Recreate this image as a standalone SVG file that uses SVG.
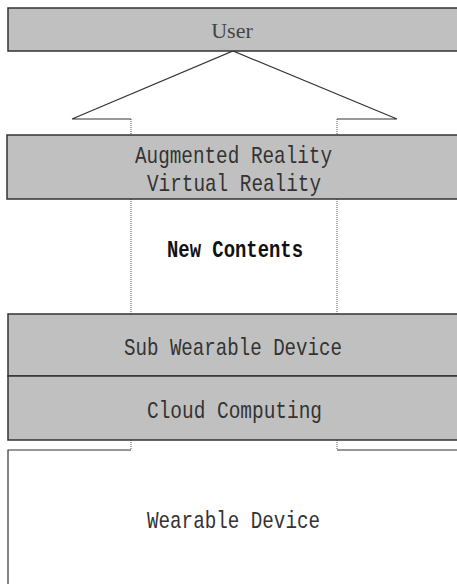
<svg xmlns="http://www.w3.org/2000/svg" width="457" height="584" viewBox="0 0 457 584">
<style>
.box{fill:#c0c0c0;stroke:#333;stroke-width:1.5}
.t{font-family:"Liberation Mono",monospace;font-size:24px;fill:#333}
.s{font-family:"Liberation Serif",serif;font-size:22px;fill:#444;text-anchor:middle}
.b{font-family:"Liberation Mono",monospace;font-size:23px;font-weight:bold;fill:#111}
.dot{fill:none;stroke:#555;stroke-width:1;stroke-dasharray:1,1}
.ln{fill:none;stroke:#333;stroke-width:1.2}
</style>
<rect width="457" height="584" fill="#fff"/>
<g id="connectors">
<path class="ln" d="M72,119 L233,51 L397,119 L337,119 M72,119 L131,119"/>
<path class="dot" d="M131,119 V135 M337,119 V135 M131,199 V314 M337,199 V314 M131,440 V450 M337,440 V450"/>
</g>
<g id="user">
<rect class="box" x="8" y="8" width="460" height="43"/>
<text class="s" x="232" y="38">User</text>
</g>
<g id="arvr">
<rect class="box" x="7" y="135" width="460" height="64"/>
<text class="t" x="135" y="163" textLength="197" lengthAdjust="spacingAndGlyphs">Augmented Reality</text>
<text class="t" x="147" y="191" textLength="174" lengthAdjust="spacingAndGlyphs">Virtual Reality</text>
</g>
<g id="newcontents">
<text class="b" x="167" y="257" textLength="136" lengthAdjust="spacingAndGlyphs">New Contents</text>
</g>
<g id="subwearable">
<rect class="box" x="8" y="314" width="460" height="62"/>
<text class="t" x="124" y="355" textLength="218" lengthAdjust="spacingAndGlyphs">Sub Wearable Device</text>
</g>
<g id="cloud">
<rect class="box" x="8" y="376" width="460" height="64"/>
<text class="t" x="147" y="418" textLength="175" lengthAdjust="spacingAndGlyphs">Cloud Computing</text>
</g>
<g id="wearable">
<path class="ln" d="M131,450 H8 V590 M337,450 H460"/>
<text class="t" x="147" y="528" textLength="173" lengthAdjust="spacingAndGlyphs">Wearable Device</text>
</g>
</svg>
